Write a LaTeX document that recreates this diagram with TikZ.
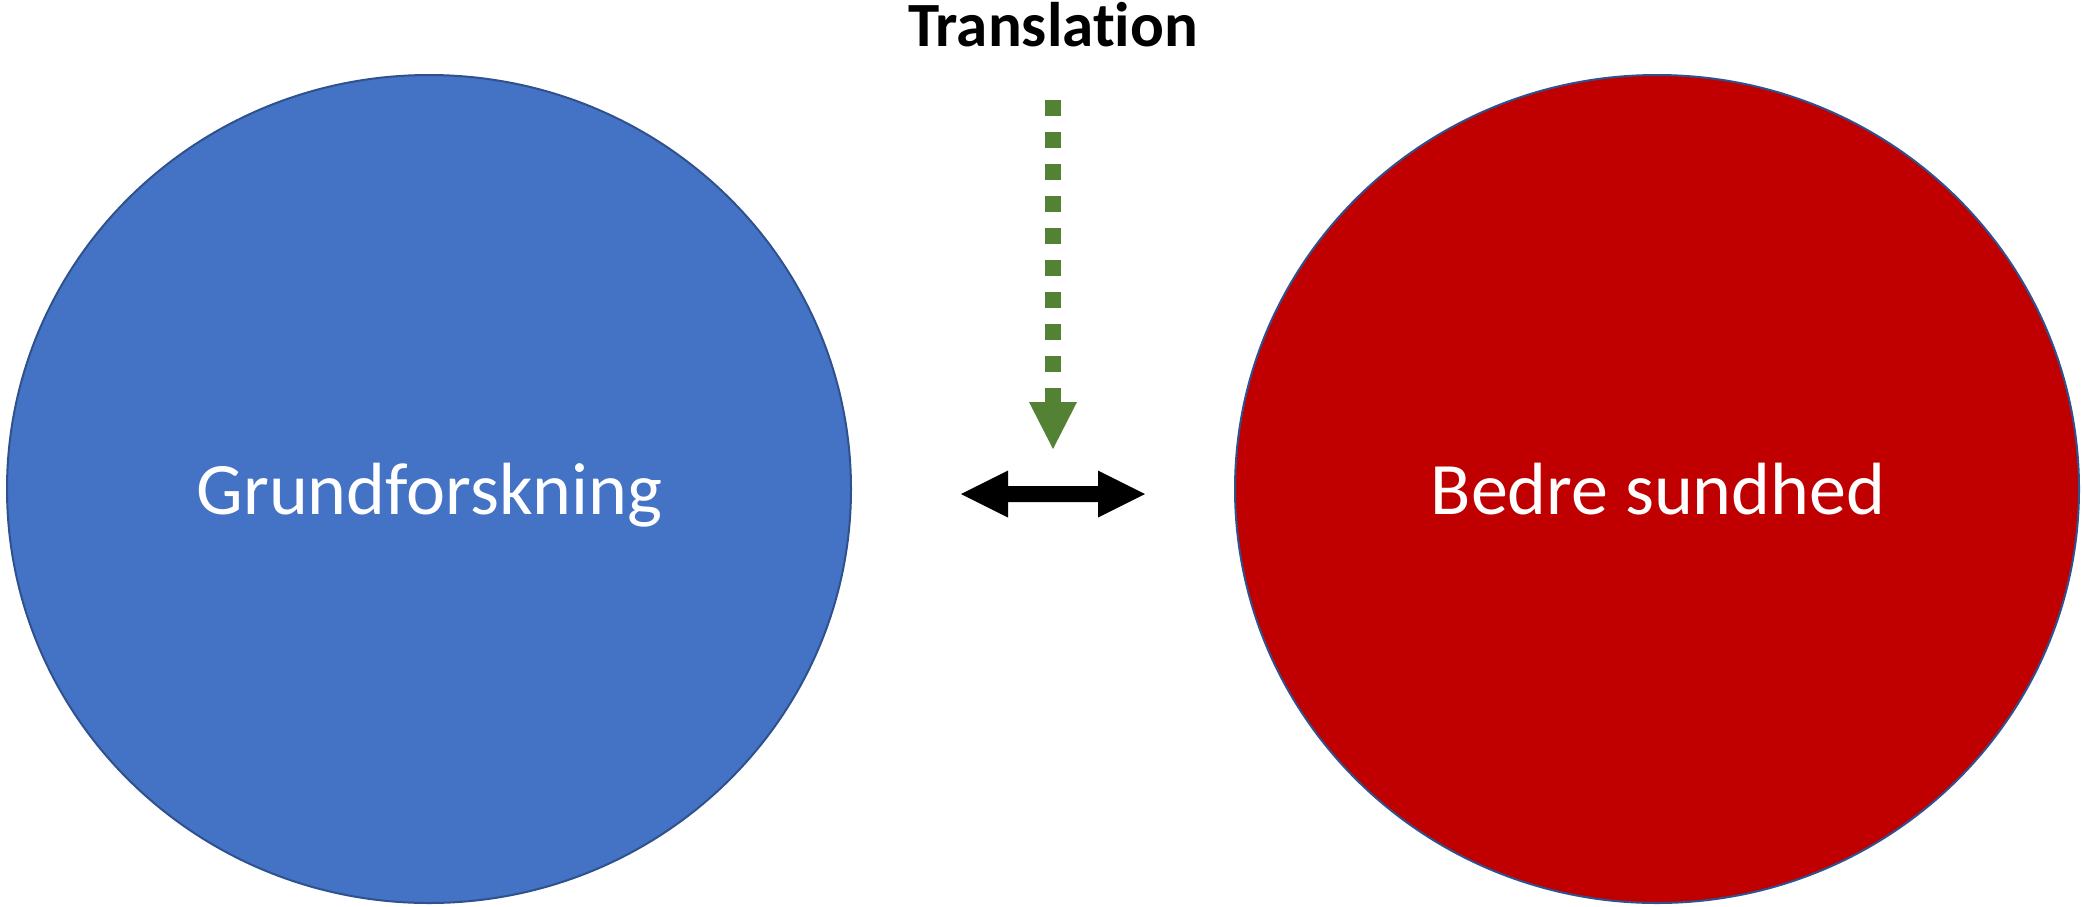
\documentclass[tikz,border=0pt]{standalone}
\usepackage{fontspec}
\setmainfont[Ligatures={NoCommon,NoRare}]{Carlito}
\usetikzlibrary{shapes.geometric}
\definecolor{cblue}{HTML}{4472C4}
\definecolor{cred}{HTML}{C00000}
\definecolor{cedge}{HTML}{2F528F}
\definecolor{cgreen}{HTML}{548235}
\tikzset{
  bubble/.style={ellipse, draw=cedge, line width=2pt, minimum width=844pt, minimum height=828pt, inner sep=0pt},
  bubbletext/.style={text=white, font=\fontsize{74}{80}\selectfont},
  greenarrow/.style={cgreen, line width=16pt, dash pattern=on 16pt off 16pt},
}
\begin{document}
\begin{tikzpicture}[x=1pt,y=-1pt]
\useasboundingbox (0,0) rectangle (2082,906);
\node[bubble, fill=cblue] (left) at (429,489) {};
\node[bubble, fill=cred] (right) at (1657,489) {};
\node[bubbletext, anchor=base] (lt) at (429.5,514) {Grundforskning};
\node[bubbletext, anchor=base] (rt) at (1658,514) {Bedre sundhed};
\node[font=\bfseries\fontsize{63}{70}\selectfont, anchor=base, inner sep=0pt] (tr) at (1053,46) {Translat\kern0pt ion};
\coordinate (gs) at (1053,100);
\coordinate (ge) at (1053,402);
\draw[greenarrow] (gs) -- (ge);
\fill[cgreen] (1029,402) -- (1077,402) -- (1053,449) -- cycle;
\fill[black] (961,494) -- (1008,470.5) -- (1008,486) -- (1098,486) -- (1098,470.5) -- (1145,494) -- (1098,517.5) -- (1098,502) -- (1008,502) -- (1008,517.5) -- cycle;
\end{tikzpicture}
\end{document}
